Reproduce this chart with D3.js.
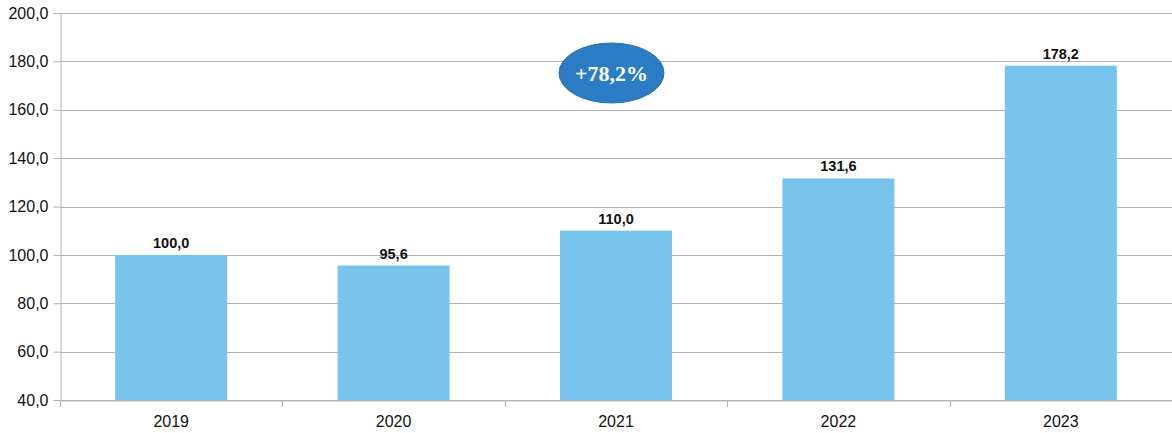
<!DOCTYPE html>
<html>
<head>
<meta charset="utf-8">
<script src="https://cdn.jsdelivr.net/npm/d3@7"></script>
<style>
  html, body { margin: 0; padding: 0; background: #fff; }
  svg { display: block; }
</style>
</head>
<body>
<svg id="chart" width="1172" height="433"></svg>
<script>
// Index values, 2019 = 100
const years = ["2019", "2020", "2021", "2022", "2023"];
const values = [100.0, 95.6, 110.0, 131.6, 178.2];
const yTicks = [40, 60, 80, 100, 120, 140, 160, 180, 200];
const growthLabel = "+78,2%";

const W = 1172, H = 433;
const margin = { left: 60, right: 0, top: 13, bottom: 33 };
const svg = d3.select("#chart");

const fmt = v => d3.format(".1f")(v).replace(".", ",");

const x = d3.scaleBand().domain(years)
  .range([margin.left, W - margin.right]).paddingInner(0).paddingOuter(0);
const y = d3.scaleLinear().domain([40, 200]).range([H - margin.bottom, margin.top]);

// horizontal grid
svg.append("g").selectAll("line").data(yTicks).join("line")
  .attr("x1", margin.left).attr("x2", W)
  .attr("y1", d => Math.round(y(d)) + 0.5).attr("y2", d => Math.round(y(d)) + 0.5)
  .attr("stroke", "#b3b3b3").attr("stroke-width", 1);

// y axis
const yAxis = svg.append("g")
  .attr("transform", `translate(${margin.left + 0.5},0)`)
  .call(d3.axisLeft(y).tickValues(yTicks).tickFormat(fmt).tickSize(7).tickPadding(5));
yAxis.select(".domain").attr("stroke", "#b3b3b3");
yAxis.selectAll(".tick line").attr("stroke", "#b3b3b3");
yAxis.selectAll(".tick text")
  .attr("font-family", "Liberation Sans, Arial, sans-serif")
  .attr("font-size", 16).attr("fill", "#111");

// bars
const barW = 112;
svg.append("g").selectAll("rect").data(values).join("rect")
  .attr("x", (d, i) => x(years[i]) + x.bandwidth() / 2 - barW / 2)
  .attr("width", barW)
  .attr("y", d => y(d))
  .attr("height", d => y(40) - y(d))
  .attr("fill", "#77c3ec");

// x axis
const xAxis = svg.append("g")
  .attr("transform", `translate(0,${Math.round(y(40)) + 0.5})`)
  .call(d3.axisBottom(x).tickSize(0).tickPadding(15));
xAxis.select(".domain").attr("stroke", "#b3b3b3");
xAxis.selectAll(".tick text")
  .attr("font-family", "Liberation Sans, Arial, sans-serif")
  .attr("font-size", 16).attr("fill", "#111");
// category separator ticks
const sepX = years.map(yr => x(yr)).concat([x(years[years.length - 1]) + x.bandwidth()]);
svg.append("g").selectAll("line").data(sepX).join("line")
  .attr("x1", d => Math.round(d) + 0.5).attr("x2", d => Math.round(d) + 0.5)
  .attr("y1", Math.round(y(40))).attr("y2", Math.round(y(40)) + 7)
  .attr("stroke", "#b3b3b3");

// value labels
svg.append("g").selectAll("text").data(values).join("text")
  .attr("x", (d, i) => x(years[i]) + x.bandwidth() / 2)
  .attr("y", d => y(d) - 7)
  .attr("text-anchor", "middle")
  .attr("font-family", "Liberation Sans, Arial, sans-serif")
  .attr("font-weight", "bold").attr("font-size", 14.5).attr("fill", "#111")
  .text(d => fmt(d));

// growth badge
const badge = svg.append("g").attr("transform", "translate(611.5,73)");
badge.append("ellipse").attr("rx", 52.5).attr("ry", 30)
  .attr("fill", "#2b7cc4").attr("stroke", "#2a6fae").attr("stroke-width", 1);
badge.append("text").attr("text-anchor", "middle").attr("dy", "0.35em")
  .attr("font-family", "Liberation Serif, Times New Roman, serif")
  .attr("font-weight", "bold").attr("font-size", 22).attr("fill", "#fff")
  .text(growthLabel);
</script>
</body>
</html>
